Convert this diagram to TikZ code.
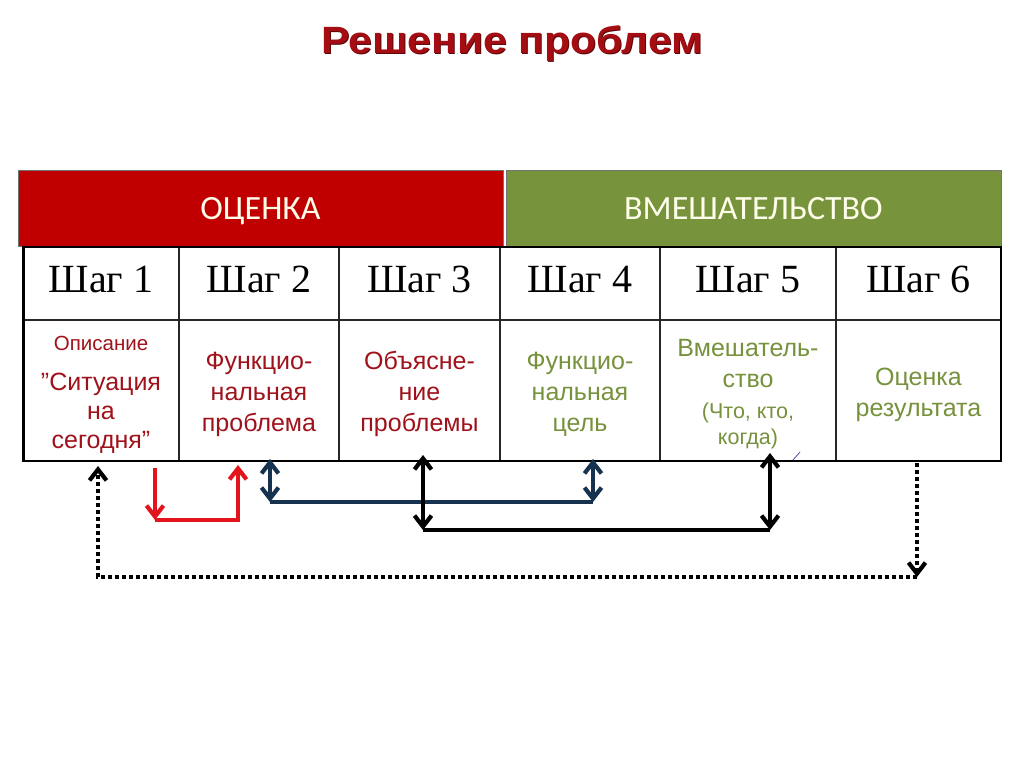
\documentclass[tikz,border=0pt]{standalone}
\usepackage{fontspec}
\setmainfont{Liberation Sans}
\newfontfamily\serifru{Liberation Serif}
\newfontfamily\calib{Carlito}
\newfontfamily\titlefont[FakeStretch=1.12]{Liberation Sans}
\usetikzlibrary{arrows.meta}
\definecolor{hdrred}{HTML}{C00000}
\definecolor{hdrgreen}{HTML}{77933C}
\definecolor{txtred}{HTML}{A0121B}
\definecolor{txtgreen}{HTML}{76923C}
\definecolor{navy}{HTML}{17324F}
\definecolor{arrred}{HTML}{E3141B}
\definecolor{titlered}{HTML}{A50D12}
\tikzset{
  hdr/.style={draw=black!55, line width=0.8, minimum height=76, inner sep=0,
    text depth=0pt, text=white!92!yellow, font=\calib\fontsize{34}{34}\selectfont},
  stepcell/.style={draw=black!85, line width=1.5, minimum width=#1, minimum height=73,
    inner sep=0, outer sep=0, text height=27pt, text depth=10pt,
    font=\serifru\fontsize{40}{40}\selectfont},
  desccell/.style={draw=black!85, line width=1.5, minimum width=#1, minimum height=141,
    inner sep=0, outer sep=0, align=center, font=\fontsize{25}{31}\selectfont},
  redtxt/.style={text=txtred},
  greentxt/.style={text=txtgreen},
  barb/.tip={Straight Barb[length=11pt, width=17pt, line width=4.2pt]},
  tip/.style={-barb},
  dtip/.style={barb-barb},
  blackconn/.style={line width=3.8, black},
  blueconn/.style={line width=3.2, navy},
  redconn/.style={line width=3.2, arrred},
  dotconn/.style={line width=3.5, black, dash pattern=on 4 off 3},
}
\begin{document}
\begin{tikzpicture}[x=1pt,y=-1pt]
\useasboundingbox[fill=white] (0,0) rectangle (1024,767);

% title
\node[anchor=base, text=titlered!55!black, font=\titlefont\fontsize{38}{38}\bfseries\selectfont] (titleshadow) at (513,55) {Решение проблем};
\node[anchor=base, text=titlered, font=\titlefont\fontsize{38}{38}\bfseries\selectfont] (title) at (512,54) {Решение проблем};

% headers
\node[hdr, fill=hdrred, minimum width=485] (ocenka) at (260.5,208) {ОЦЕНКА};
\node[hdr, fill=hdrgreen, minimum width=495] (vmesh) at (753.5,208) {ВМЕШАТЕЛЬСТВО};

% step row (x edges 23,179,339,500,660,836,1001; y 247-320)
\node[stepcell=156] (s1) at (101,283.5) {Шаг 1};
\node[stepcell=160] (s2) at (259,283.5) {Шаг 2};
\node[stepcell=161] (s3) at (419.5,283.5) {Шаг 3};
\node[stepcell=160] (s4) at (580,283.5) {Шаг 4};
\node[stepcell=176] (s5) at (748,283.5) {Шаг 5};
\node[stepcell=165] (s6) at (918.5,283.5) {Шаг 6};

% description row (y 320-461)
\node[desccell=156, redtxt] (d1) at (101,390.5) {};
\node[desccell=160, redtxt] (d2) at (259,390.5) {};
\node[desccell=161, redtxt] (d3) at (419.5,390.5) {};
\node[desccell=160, greentxt] (d4) at (580,390.5) {};
\node[desccell=176, greentxt] (d5) at (748,390.5) {};
\node[desccell=165, greentxt] (d6) at (918.5,390.5) {};

% description texts
\tikzset{desctext/.style={align=center, inner sep=0, font=\fontsize{25}{31}\selectfont}}
\node[desctext, redtxt] (t1) at ([yshift=-4]d1.center) {{\fontsize{20.5}{25}\selectfont Описание}\\[9pt]”Ситуация\\[-2pt]на\\[-2pt]сегодня”};
\node[desctext, redtxt] (t2) at ([yshift=-3.5]d2.center) {Функцио-\\нальная\\проблема};
\node[desctext, redtxt] (t3) at ([yshift=-3.5]d3.center) {Объясне-\\ние\\проблемы};
\node[desctext, greentxt] (t4) at ([yshift=-3.5]d4.center) {Функцио-\\нальная\\цель};
\node[desctext, greentxt] (t5) at ([yshift=-3.5]d5.center) {Вмешатель-\\ство\\{\fontsize{21.5}{26}\selectfont (Что, кто,}\\[-5pt]{\fontsize{21.5}{26}\selectfont когда)}};
\node[desctext, greentxt] (t6) at ([yshift=-4]d6.center) {Оценка\\результата};

% outer frame
\draw[line width=2.2, black] (s1.north west) rectangle (d6.south east);
\draw[line width=3, black] (s1.north west) -- (d1.south west);

% small stray stroke
\draw[line width=0.8, blue!40!gray] (793,460) -- (800,452);

% connector coordinates
\coordinate (r1) at (155,468);
\coordinate (r2) at (155,520);
\coordinate (r3) at (238,465);

\coordinate (b1) at (270,459);
\coordinate (b2) at (270,502);
\coordinate (b3) at (593,459);
\coordinate (b4) at (593,502);

\coordinate (k1) at (423,455);
\coordinate (k2) at (423,530);
\coordinate (k3) at (770,453);
\coordinate (k4) at (770,530);

\coordinate (p1) at (917,463);
\coordinate (p2) at (917,577);
\coordinate (p3) at (98,466);

% red
\draw[redconn, tip] (r1) -- (r2);
\draw[redconn, tip] (r2) -| (r3);

% blue
\draw[blueconn, dtip] (b1) -- (b2);
\draw[blueconn, dtip] (b3) -- (b4);
\draw[blueconn] (b2) -- (b4);

% black
\draw[blackconn, dtip] (k1) -- (k2);
\draw[blackconn, dtip] (k3) -- (k4);
\draw[blackconn] (k2) -- (k4);

% dotted
\draw[dotconn, tip] (p1) -- (p2);
\draw[dotconn, tip] (p2) -| (p3);
\end{tikzpicture}
\end{document}
